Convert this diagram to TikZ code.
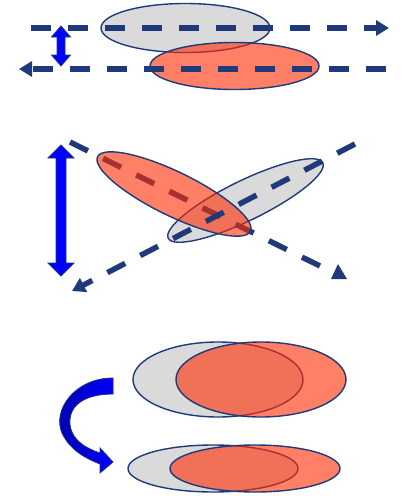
\documentclass[tikz,border=0pt]{standalone}
\usepackage{tikz}
\definecolor{navyline}{RGB}{31,58,122}
\definecolor{pulsegray}{RGB}{218,218,218}
\definecolor{pulseorange}{RGB}{255,43,0}
\usetikzlibrary{arrows.meta,shapes.geometric}

\begin{document}
\begin{tikzpicture}[x=1pt,y=-1pt,
  ell/.style={ellipse,draw=navyline,line width=1.4pt,inner sep=0pt},
  greyell/.style={ell,fill=pulsegray},
  orangeell/.style={ell,fill=pulseorange,fill opacity=0.6},
  dline/.style={draw=navyline,line width=5.5pt,dash pattern=on 20pt off 17pt},
  tip/.style={-{Triangle[length=13pt,width=15pt]}},
  blockarrow/.style={draw=navyline,fill=blue,line width=0.8pt,line join=miter}]
  \useasboundingbox (0,0) rectangle (403,496);

  % top: shifted pair
  \node[greyell,minimum width=169pt,minimum height=49pt] (topgrey) at (185.5,28) {};
  \node[orangeell,minimum width=169pt,minimum height=47pt] (toporange) at (234.5,66) {};
  \coordinate (ra) at (31,28);
  \coordinate (rb) at (389,28);
  \coordinate (la) at (386,69);
  \coordinate (lb) at (19,69);
  \draw[dline,tip] (ra) -- (rb);
  \draw[dline,tip] (la) -- (lb);
  \filldraw[blockarrow] (61,26) -- ++(9.5,11) -- ++(-5.5,0) -- ++(0,18) -- ++(5.5,0)
    -- (61,66) -- ++(-9.5,-11) -- ++(5.5,0) -- ++(0,-18) -- ++(-5.5,0) -- cycle;

  % middle: crossed pair
  \node[greyell,minimum width=172pt,minimum height=40pt,rotate=26] (midgrey) at (245.5,200.5) {};
  \coordinate (da) at (70,142);
  \coordinate (db) at (324,268);
  \draw[dline] (da) -- (db);
  \node[orangeell,minimum width=170pt,minimum height=44pt,rotate=-26] (midorange) at (174,194) {};
  \coordinate (ua) at (355,144);
  \coordinate (ub) at (72,291);
  \draw[dline,tip] (ua) -- (ub);
  \fill[navyline] (331,279) -- (347,279) -- (338,264) -- cycle;
  \filldraw[blockarrow] (61,145) -- ++(13,13) -- ++(-8,0) -- ++(0,105) -- ++(8,0)
    -- (61,276) -- ++(-13,-13) -- ++(8,0) -- ++(0,-105) -- ++(-8,0) -- cycle;

  % bottom: thick and thin pairs
  \node[greyell,minimum width=170pt,minimum height=75pt] (biggrey) at (218,379.5) {};
  \node[orangeell,minimum width=170pt,minimum height=75pt] (bigorange) at (261,379.5) {};
  \node[greyell,minimum width=170pt,minimum height=47pt] (smallgrey) at (213,468.5) {};
  \node[orangeell,minimum width=170pt,minimum height=47pt] (smallorange) at (255,468.5) {};
  \filldraw[blockarrow,left color=blue!65!black,right color=blue] (113,378)
    .. controls (75,378) and (52,410) .. (62,433)
    .. controls (70,450) and (85,458) .. (100,464) -- (100,473) -- (113,462) -- (100,448)
    -- (100,453) .. controls (85,448) and (72,440) .. (70,425)
    .. controls (68,405) and (85,394) .. (113,394) -- cycle;
\end{tikzpicture}
\end{document}
